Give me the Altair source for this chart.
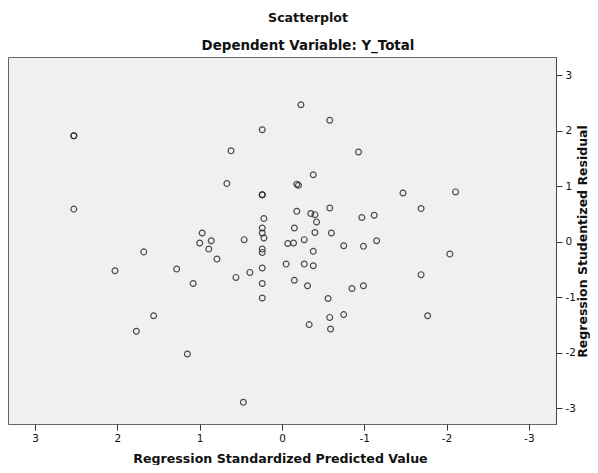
import altair as alt
import pandas as pd

# Regression Standardized Predicted Value (x) and Studentized Residual (y)
pred = [2.53, 2.53, 2.53, 0.24, 0.62, 0.67, 0.24, 0.24, 0.22, 0.24,
        0.24, 0.22, 0.97, 1.00, 0.86, 0.46, -0.07, -0.14, -0.18, -0.15,
        -0.18, -0.20, -0.23, 1.68, 2.03, 1.28, 1.08, 0.89, 0.79, 0.56,
        0.39, 0.24, 0.24, 0.24, 0.24, 0.24, -0.05, -0.15, 1.56, 1.77,
        1.15, 0.47, -0.58, -0.93, -0.38, -1.47, -2.11, -1.69, -0.35, -0.40,
        -0.42, -0.58, -0.97, -1.12, -0.40, -0.60, -0.27, -0.75, -0.99, -1.15,
        -2.04, -0.38, -0.27, -0.38, -0.31, -0.85, -0.99, -1.69, -0.56, -0.75,
        -0.58, -1.77, -0.33, -0.59]
resid = [1.91, 1.91, 0.59, 2.02, 1.64, 1.05, 0.85, 0.85, 0.42, 0.25,
         0.16, 0.07, 0.16, -0.02, 0.02, 0.04, -0.03, -0.02, 0.55, 0.25,
         1.04, 1.02, 2.47, -0.18, -0.52, -0.49, -0.75, -0.13, -0.31, -0.64,
         -0.55, -0.13, -0.19, -0.47, -0.75, -1.01, -0.40, -0.69, -1.33, -1.61,
         -2.02, -2.89, 2.19, 1.62, 1.21, 0.88, 0.90, 0.60, 0.51, 0.49,
         0.36, 0.61, 0.44, 0.48, 0.17, 0.16, 0.04, -0.07, -0.08, 0.02,
         -0.22, -0.17, -0.40, -0.43, -0.79, -0.84, -0.79, -0.59, -1.02, -1.31,
         -1.36, -1.33, -1.49, -1.57]
tick_values = [-3, -2, -1, 0, 1, 2, 3]

df = pd.DataFrame({"pred": pred, "resid": resid})

FONT = "DejaVu Sans"

chart = alt.Chart(df).mark_point(
    shape="circle", filled=False, size=34, strokeWidth=1.2,
    color="#222222", opacity=0.8
).encode(
    x=alt.X("pred:Q",
            scale=alt.Scale(domain=[-3.33, 3.33], reverse=True, nice=False, zero=False),
            axis=alt.Axis(values=tick_values, title="Regression Standardized Predicted Value",
                          grid=False, domain=False, tickSize=6, tickColor="#333333",
                          labelPadding=3, labelFont=FONT, labelFontSize=10.5, labelColor="#111111",
                          labelExpr="'' + datum.value",
                          titleFont=FONT, titleFontSize=12.6, titleFontWeight="bold", titleColor="#111111",
                          titleX=272, titleY=34, titleBaseline="middle", titleAlign="center")),
    y=alt.Y("resid:Q",
            scale=alt.Scale(domain=[-3.28, 3.33], nice=False, zero=False),
            axis=alt.Axis(orient="right", values=tick_values, title="Regression Studentized Residual",
                          grid=False, domain=True, domainColor="#444444", tickSize=6, tickColor="#333333",
                          labelPadding=3, labelFont=FONT, labelFontSize=10.5, labelColor="#111111",
                          labelExpr="'' + datum.value",
                          titleFont=FONT, titleFontSize=12.5, titleFontWeight="bold", titleColor="#111111",
                          titleAngle=270, titleX=26, titleY=184, titleBaseline="middle", titleAlign="center"))
).properties(
    width=548, height=367,
    title=alt.TitleParams(text="Scatterplot", subtitle="Dependent Variable: Y_Total",
                          font=FONT, fontSize=12.6, fontWeight="bold", color="#111111",
                          subtitleFont=FONT, subtitleFontSize=13.4, subtitleFontWeight="bold",
                          subtitleColor="#111111", anchor="middle", dx=26, offset=5,
                          subtitlePadding=14),
    padding={"left": 0, "top": 49, "right": 34, "bottom": 41},
    autosize="none",
    background="white"
).configure_view(fill="#f0f0f0", stroke="#666666", strokeWidth=1)

chart.save("out.html", embed_options={"renderer": "svg", "actions": False})
